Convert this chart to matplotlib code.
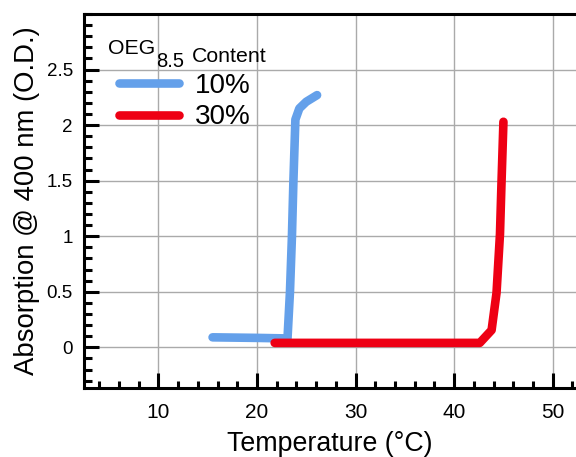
import numpy as np
import matplotlib.pyplot as plt
from matplotlib.ticker import MultipleLocator

plt.rcParams['font.family'] = ['Liberation Sans', 'DejaVu Sans']

# absorbance vs temperature for the two OEG8.5 contents
temp_10 = [15.5, 20.0, 23.1, 23.35, 23.55, 23.7, 23.9, 24.3, 25.0, 26.1]
abs_10 = [0.09, 0.085, 0.08, 0.5, 1.0, 1.5, 2.05, 2.15, 2.21, 2.27]
temp_30 = [21.8, 30.0, 42.6, 43.8, 44.3, 44.65, 44.8, 45.0]
abs_30 = [0.04, 0.04, 0.04, 0.155, 0.49, 1.02, 1.47, 2.03]
labels = ['10%', '30%']
colors = ['#64a0ea', '#ee0014']

fig = plt.figure(figsize=(5.76, 4.57), dpi=100)
ax = fig.add_axes([84/576, 1 - 388/457, 1 - 84/576, (388 - 14)/457])

ax.plot(temp_10, abs_10, color=colors[0], lw=6.2, solid_capstyle='round',
        solid_joinstyle='round', label=labels[0])
ax.plot(temp_30, abs_30, color=colors[1], lw=6.2, solid_capstyle='round',
        solid_joinstyle='round', label=labels[1])

ax.set_xlim(2.46, 52.36)
ax.set_ylim(-0.366, 3.0)
ax.xaxis.set_major_locator(MultipleLocator(10))
ax.xaxis.set_minor_locator(MultipleLocator(2))
ax.yaxis.set_minor_locator(MultipleLocator(0.1))
ax.set_yticks([0, 0.5, 1, 1.5, 2, 2.5])
ax.set_yticklabels(['0', '0.5', '1', '1.5', '2', '2.5'])
ax.grid(True, which='major', color='#aaaaaa', lw=1.0)
ax.set_axisbelow(True)

ax.tick_params(which='both', direction='in', width=2.2, top=False, right=False)
ax.tick_params(which='major', length=10.8)
ax.tick_params(which='minor', length=5.4)
ax.tick_params(axis='x', labelsize=15, pad=11)
ax.tick_params(axis='y', labelsize=13.5, pad=8)
for s in ['left', 'bottom', 'top']:
    ax.spines[s].set_linewidth(2.2)
ax.spines['right'].set_visible(False)

ax.set_xlabel('Temperature (°C)', fontsize=19.3)
ax.xaxis.set_label_coords(0.5, -0.115)
ax.set_ylabel('Absorption @ 400 nm (O.D.)', fontsize=19.8, labelpad=5)

# legend title with a large, well-lowered subscript
t1 = fig.text(108/576, 1 - 54/457, 'OEG', fontsize=15.3, va='baseline')
t2 = ax.annotate('8.5', xy=(1, 0), xycoords=t1, xytext=(0.5, -6.3),
                 textcoords='offset points', fontsize=14.5, va='baseline')
ax.annotate('Content', xy=(1, 0), xycoords=t2, xytext=(5.5, 6.3),
            textcoords='offset points', fontsize=15.3, va='baseline')

ax.legend(loc='upper left', bbox_to_anchor=(119/576, 1 - 73/457),
          bbox_transform=fig.transFigure, frameon=False, fontsize=20,
          handlelength=2.16, handletextpad=0.58, labelspacing=0.19,
          borderpad=0, borderaxespad=0)

plt.savefig('out.png', dpi=100)
